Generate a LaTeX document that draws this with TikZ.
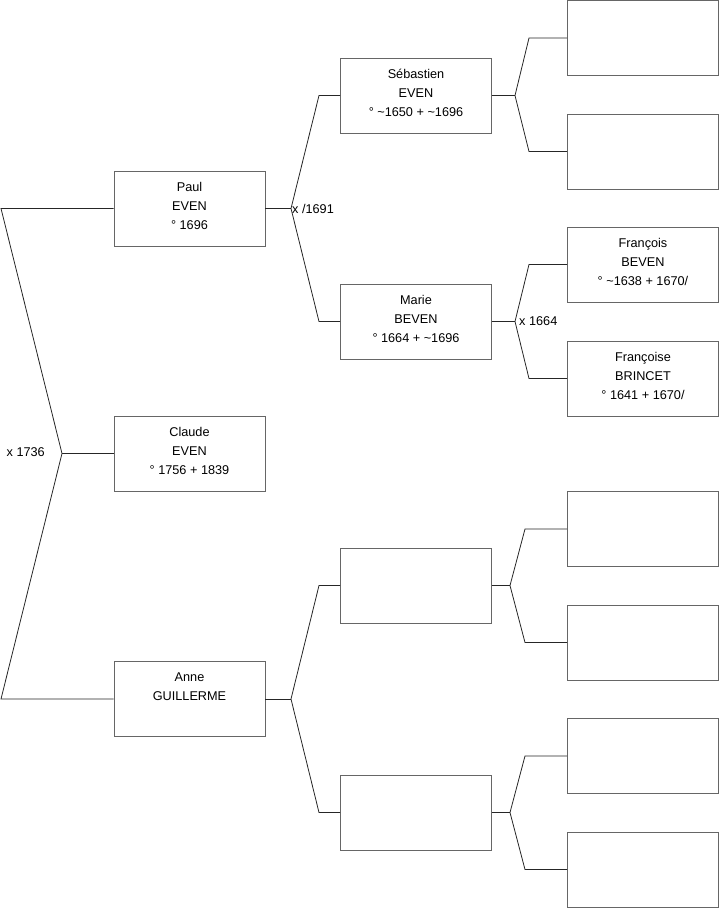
\documentclass[tikz,border=0pt]{standalone}
\usepackage{fontspec}
\setmainfont{Liberation Sans}
\usetikzlibrary{positioning}
\tikzset{
  pbox/.style={draw=black!60, line width=0.9pt, minimum width=151pt, minimum height=75pt,
    align=center, inner sep=0pt, text depth=5pt, font=\fontsize{12.7}{19}\selectfont},
  link/.style={draw=black!85, line width=0.8pt},
  wed/.style={font=\fontsize{12.7}{15}\selectfont, inner sep=1pt}
}
\begin{document}
\begin{tikzpicture}[x=1pt,y=-1pt]
        \useasboundingbox (0,0) rectangle (719,908);

        % first generation
        \node[pbox] (paul) at (189.5,208.5) {Paul\\EVEN\\° 1696};
        \node[pbox] (claude) at (189.5,453.5) {Claude\\EVEN\\° 1756 + 1839};
        \node[pbox] (anne) at (189.5,699) {Anne\\GUILLERME\\\mbox{}};

        % second generation
        \node[pbox] (sebastien) at (416,95.5) {Sébastien\\EVEN\\° \textasciitilde1650 + \textasciitilde1696};
        \node[pbox] (marie) at (416,321.5) {Marie\\BEVEN\\° 1664 + \textasciitilde1696};
        \node[pbox] (anneF) at (416,585.5) {};
        \node[pbox] (anneM) at (416,812.5) {};

        % third generation
        \node[pbox] (sebF) at (643,38) {};
        \node[pbox] (sebM) at (643,151.5) {};
        \node[pbox] (francois) at (643,264.5) {François\\BEVEN\\° \textasciitilde1638 + 1670/};
        \node[pbox] (francoise) at (643,378.5) {Françoise\\BRINCET\\° 1641 + 1670/};
        \node[pbox] (afF) at (643,529) {};
        \node[pbox] (afM) at (643,642.5) {};
        \node[pbox] (amF) at (643,756) {};
        \node[pbox] (amM) at (643,869.5) {};

        % forks
        \coordinate (f0) at (62,453.5);
        \coordinate (u0) at (1,208.5);
        \coordinate (d0) at (1,699);
        \coordinate (f1) at (291,208.5);
        \coordinate (u1) at (319,95.5);
        \coordinate (d1) at (319,321.5);
        \coordinate (f2) at (291,699);
        \coordinate (u2) at (319,585.5);
        \coordinate (d2) at (319,812.5);
        \coordinate (f3) at (515,95.5);
        \coordinate (u3) at (529,38);
        \coordinate (d3) at (529,151.5);
        \coordinate (f4) at (515,321.5);
        \coordinate (u4) at (529,264.5);
        \coordinate (d4) at (529,378.5);
        \coordinate (f5) at (510,585.5);
        \coordinate (u5) at (525,529);
        \coordinate (d5) at (525,642.5);
        \coordinate (f6) at (510,812.5);
        \coordinate (u6) at (525,756);
        \coordinate (d6) at (525,869.5);

        \draw[link] (claude.west) -- (f0);
        \draw[link] (paul.west) -- (u0) -- (f0) -- (d0) -- (anne.west);

        \draw[link] (paul.east) -- (f1);
        \draw[link] (sebastien.west) -- (u1) -- (f1) -- (d1) -- (marie.west);
        \draw[link] (anne.east) -- (f2);
        \draw[link] (anneF.west) -- (u2) -- (f2) -- (d2) -- (anneM.west);

        \draw[link] (sebastien.east) -- (f3);
        \draw[link] (sebF.west) -- (u3) -- (f3) -- (d3) -- (sebM.west);
        \draw[link] (marie.east) -- (f4);
        \draw[link] (francois.west) -- (u4) -- (f4) -- (d4) -- (francoise.west);
        \draw[link] (anneF.east) -- (f5);
        \draw[link] (afF.west) -- (u5) -- (f5) -- (d5) -- (afM.west);
        \draw[link] (anneM.east) -- (f6);
        \draw[link] (amF.west) -- (u6) -- (f6) -- (d6) -- (amM.west);

        % weddings
        \node[wed, anchor=east] (w0) at (46,452) {x 1736};
        \node[wed, anchor=west] (w1) at (f1) {x /1691};
        \node[wed, anchor=west, xshift=3pt] (w4) at (f4) {x 1664};
\end{tikzpicture}
\end{document}
